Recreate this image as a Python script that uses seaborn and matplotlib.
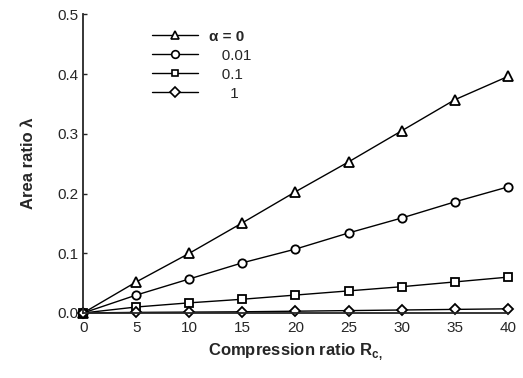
import numpy as np
import pandas as pd
import matplotlib
matplotlib.use("Agg")
import matplotlib.pyplot as plt
import seaborn as sns
from matplotlib.lines import Line2D

# Compression ratio Rc
rc = [0, 5, 10, 15, 20, 25, 30, 35, 40]

# Area ratio for each value of alpha
lam_a0 = [0.0, 0.052, 0.100, 0.151, 0.203, 0.253, 0.305, 0.357, 0.396]
lam_a001 = [0.0, 0.030, 0.057, 0.084, 0.107, 0.134, 0.159, 0.186, 0.211]
lam_a01 = [0.0, 0.010, 0.017, 0.023, 0.030, 0.037, 0.044, 0.052, 0.060]
lam_a1 = [0.0, 0.001, 0.0015, 0.002, 0.003, 0.004, 0.005, 0.006, 0.007]

alpha_labels = ["α = 0", "0.01", "0.1", "1"]
series = [lam_a0, lam_a001, lam_a01, lam_a1]

rows = []
for lab, vals in zip(alpha_labels, series):
    for x, y in zip(rc, vals):
        rows.append({"Rc": x, "lam": y, "alpha": lab})
df = pd.DataFrame(rows)

sns.set_style("ticks")
plt.rcParams["font.family"] = ["Liberation Sans", "DejaVu Sans"]

fig = plt.figure(figsize=(5.23, 3.78), dpi=100)
ax = fig.add_axes([0.159, 0.172, 0.812, 0.790])

marker_map = {"α = 0": "^", "0.01": "o", "0.1": "s", "1": "D"}
sizes = {"^": 6.5, "o": 6, "s": 5.5, "D": 5.5}
sns.lineplot(
    data=df, x="Rc", y="lam", style="alpha", style_order=alpha_labels,
    markers=marker_map, dashes=False, color="black", linewidth=1.0,
    markerfacecolor="white", markeredgecolor="black",
    markeredgewidth=1.3, ax=ax, legend=False, clip_on=False,
)
for line in ax.lines:
    line.set_markersize(sizes.get(line.get_marker(), 6))

ax.set_xlim(0, 40)
ax.set_ylim(0, 0.5)
ax.set_xticks(rc)
ax.set_yticks([0, 0.1, 0.2, 0.3, 0.4, 0.5])
ax.set_yticklabels(["0.0", "0.1", "0.2", "0.3", "0.4", "0.5"])
ax.tick_params(direction="in", length=3, width=1, labelsize=11, pad=3)
ax.tick_params(axis="x", length=0, pad=6)
for s in ["top", "right"]:
    ax.spines[s].set_visible(False)
ax.spines["left"].set_linewidth(1.3)
ax.spines["bottom"].set_linewidth(1.3)

ax.set_xlabel("Compression ratio R$_\\mathregular{c,}$", fontsize=12, fontweight="bold", labelpad=4)
ax.set_ylabel("Area ratio λ", fontsize=12, fontweight="bold", labelpad=16)

# legend handles
handles = [
    Line2D([0], [0], color="black", lw=1.0, marker=marker_map[l],
           markersize=sizes[marker_map[l]] - 0.5,
           markerfacecolor="white", markeredgecolor="black", markeredgewidth=1.2)
    for l in alpha_labels
]
legend_labels = ["α = 0", "   0.01", "   0.1", "     1"]
leg = ax.legend(handles, legend_labels, loc="upper left", bbox_to_anchor=(0.13, 0.995),
                frameon=False, fontsize=11, handlelength=3.0, handletextpad=0.7,
                labelspacing=0.33)
leg.get_texts()[0].set_fontweight("bold")

fig.savefig("out.png", dpi=100)
